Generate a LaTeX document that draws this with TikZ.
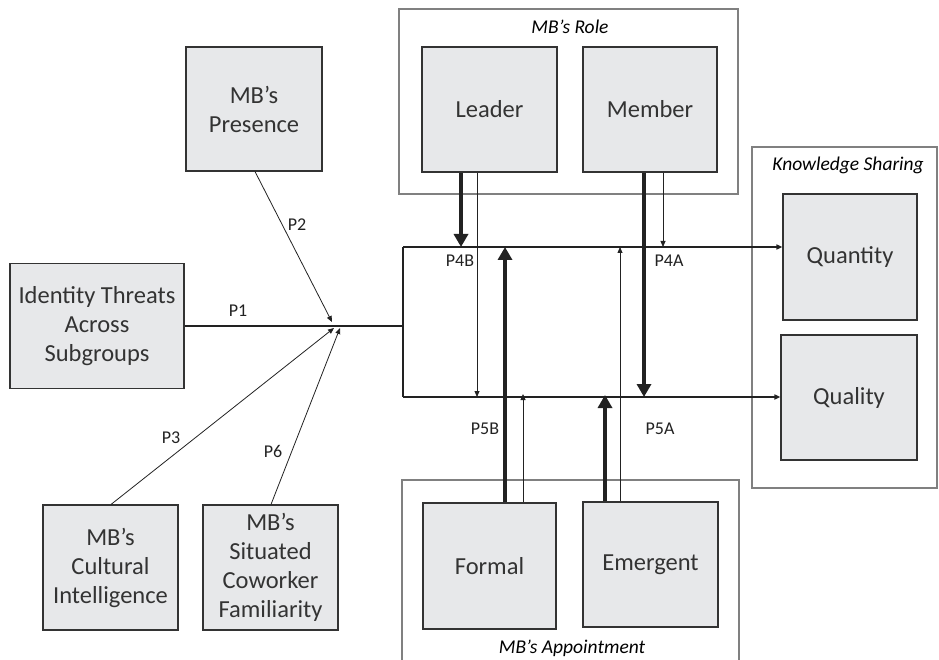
\documentclass[tikz,border=0pt]{standalone}
\usepackage{fontspec}
\setmainfont{Carlito}
\usetikzlibrary{arrows.meta}
\definecolor{boxfill}{HTML}{E7E8EA}
\definecolor{boxline}{HTML}{333333}
\definecolor{outerline}{HTML}{808080}
\definecolor{ink}{HTML}{222222}
\begin{document}
\begin{tikzpicture}[x=1pt,y=-1pt,
  cbox/.style={draw=boxline,fill=boxfill,line width=1.1pt,text=boxline,
    font=\fontsize{24.5}{29}\selectfont,align=center,inner sep=0pt},
  outer/.style={draw=outerline,line width=1.3pt},
  ttl/.style={font=\fontsize{19.5}{22}\selectfont\itshape,text=black},
  plab/.style={font=\fontsize{18}{20}\selectfont,text=ink},
  thin/.style={draw=ink,line width=0.8pt,-{Triangle[width=5pt,length=6pt]}},
  thick/.style={draw=ink,line width=4.5pt,-{Triangle[width=14pt,length=13pt]}},
  main/.style={draw=ink,line width=1.5pt}]
\useasboundingbox (0,0) rectangle (939,660);
% outer group boxes
\draw[outer] (399,9) rectangle (738,194);
\draw[outer] (752,147) rectangle (937,488);
\draw[outer] (402,665) -- (402,480) -- (739,480) -- (739,665);
\node[ttl] (roleT) at (570,27) {MB’s Role};
\node[ttl] (ksT) at (848,165) {Knowledge Sharing};
\node[ttl] (apT) at (572,648) {MB’s Appointment};
% boxes
\node[cbox,minimum width=136pt,minimum height=124pt] (presence) at (254,109) {MB’s\\Presence};
\node[cbox,minimum width=174pt,minimum height=125pt] (identity) at (97,326) {Identity Threats\\Across\\Subgroups};
\node[cbox,minimum width=135pt,minimum height=125pt] (cultural) at (110.5,567.5) {MB’s\\Cultural\\Intelligence};
\node[cbox,minimum width=135pt,minimum height=125pt] (situated) at (270.5,567.5) {MB’s\\Situated\\Coworker\\Familiarity};
\node[cbox,minimum width=135pt,minimum height=125pt] (leader) at (489.5,109.5) {Leader};
\node[cbox,minimum width=134pt,minimum height=125pt] (member) at (650,109.5) {Member};
\node[cbox,minimum width=134pt,minimum height=126pt] (quantity) at (850,257) {Quantity};
\node[cbox,minimum width=136pt,minimum height=125pt] (quality) at (849,397.5) {Quality};
\node[cbox,minimum width=133pt,minimum height=126pt] (formal) at (489.5,566) {Formal};
\node[cbox,minimum width=135pt,minimum height=125pt] (emergent) at (650.5,564.5) {Emergent};
% junction and bracket
\coordinate (J) at (333,326);
\coordinate (bm) at (403,326);
\coordinate (bt) at (403,247);
\coordinate (bb) at (403,397);
\draw[main] (identity.east) -- (bm);
\draw[main] (bt) -- (bb);
\draw[main,-{Triangle[width=5pt,length=6pt]}] (bt) -- (bt -| quantity.west);
\draw[main,-{Triangle[width=5pt,length=6pt]}] (bb) -- (bb -| quality.west);
% arrows into junction
\coordinate (j2) at (332,322);
\coordinate (j3) at (334,328);
\coordinate (j6) at (340,328);
\draw[thin] ([xshift=1pt]presence.south) -- (j2);
\draw[thin] ([xshift=0.5pt]cultural.north) -- (j3);
\draw[thin] ([xshift=0.5pt]situated.north) -- (j6);
% role arrows
\draw[thick] ([xshift=-28.5pt]leader.south) -- ([xshift=-28.5pt]leader.south |- bt);
\draw[thin] ([xshift=-12.5pt]leader.south) -- ([xshift=-12.5pt]leader.south |- bb);
\draw[thick] ([xshift=-6pt]member.south) -- ([xshift=-6pt]member.south |- bb);
\draw[thin] ([xshift=13pt]member.south) -- ([xshift=13pt]member.south |- bt);
% appointment arrows
\draw[thick] ([xshift=15.5pt]formal.north) -- ([xshift=15.5pt]formal.north |- bt);
\draw[thin] ([xshift=33.5pt]formal.north) -- ([xshift=33.5pt,yshift=3pt]formal.north |- bb);
\draw[thick] ([xshift=-45.5pt]emergent.north) -- ([xshift=-45.5pt,yshift=2pt]emergent.north |- bb);
\draw[thin] ([xshift=-30.5pt]emergent.north) -- ([xshift=-30.5pt]emergent.north |- bt);
% labels
\node[plab] (p1) at (238,311) {P1};
\node[plab] (p2) at (297,225) {P2};
\node[plab] (p3) at (171,438) {P3};
\node[plab] (p6) at (273,451) {P6};
\node[plab] (p4b) at (460,261) {P4B};
\node[plab] (p4a) at (669,261) {P4A};
\node[plab] (p5b) at (485,429) {P5B};
\node[plab] (p5a) at (660,429) {P5A};
\end{tikzpicture}
\end{document}
